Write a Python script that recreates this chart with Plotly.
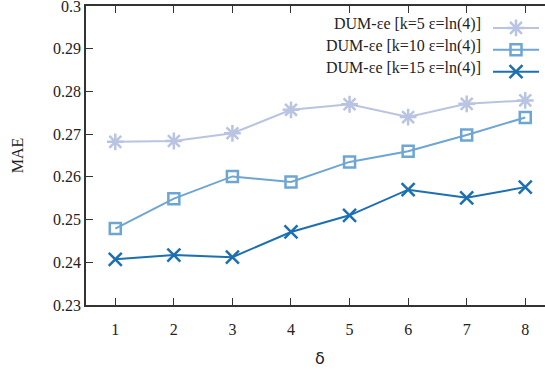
import plotly.graph_objects as go

delta = [1, 2, 3, 4, 5, 6, 7, 8]
mae_k5 = [0.2682, 0.2684, 0.2702, 0.2757, 0.2770, 0.2740, 0.2771, 0.2779]
mae_k10 = [0.2479, 0.2549, 0.2601, 0.2588, 0.2635, 0.2660, 0.2698, 0.2739]
mae_k15 = [0.2407, 0.2417, 0.2412, 0.2471, 0.2510, 0.2570, 0.2551, 0.2576]
labels = ["DUM-εe [k=5 ε=ln(4)]", "DUM-εe [k=10 ε=ln(4)]", "DUM-εe [k=15 ε=ln(4)]"]
y_ticks = [0.23, 0.24, 0.25, 0.26, 0.27, 0.28, 0.29, 0.3]
y_ticktext = ["0.23", "0.24", "0.25", "0.26", "0.27", "0.28", "0.29", "0.3"]
colors = ["#b9c4e2", "#6ea6d3", "#1c6fb0"]
symbols = ["asterisk-open", "square-open", "x-thin-open"]
sizes = [14, 11, 13]

serif = "Liberation Serif"
fs = 16
fig = go.Figure()
for ys, lab, c, s, sz in zip([mae_k5, mae_k10, mae_k15], labels, colors, symbols, sizes):
    fig.add_trace(go.Scatter(
        x=delta, y=ys, mode="lines+markers", name=" ",
        line=dict(color=c, width=2),
        marker=dict(symbol=s, size=sz, color=c, line=dict(color=c, width=2.5)),
    ))

fig.update_layout(
    width=545, height=371,
    margin=dict(l=86, r=0, t=6, b=66, autoexpand=False),
    paper_bgcolor="white", plot_bgcolor="white",
    font=dict(family=serif, size=fs, color="#222"),
    showlegend=True,
    legend=dict(x=(488 - 86) / 459, xref="paper", y=1 - 6 / 299, yanchor="top",
                bgcolor="rgba(0,0,0,0)", font=dict(size=14.5), itemwidth=46,
                tracegroupgap=0),
    xaxis=dict(range=[0.5, 8.337], tickvals=delta, ticks="inside", ticklen=7,
               tickcolor="#333", showline=True, linecolor="#333", linewidth=1.5,
               mirror="ticks", showgrid=False, zeroline=False,
               ticklabeloverflow="allow", ticklabelstandoff=9,
               tickfont=dict(family=serif, size=fs)),
    yaxis=dict(range=[0.23, 0.3], tickvals=y_ticks, ticktext=y_ticktext,
               ticks="inside", ticklen=7, ticklabeloverflow="allow",
               tickcolor="#333", showline=True, linecolor="#333", linewidth=1.5,
               showgrid=False, zeroline=False,
               title=dict(text="MAE", font=dict(family=serif, size=fs), standoff=25),
               tickfont=dict(family=serif, size=fs)),
)

for i, lab in enumerate(labels):
    fig.add_annotation(text=lab, xref="paper", yref="paper",
                       x=(483 - 86) / 459, y=1 - (24 + 22 * i - 6) / 299,
                       xanchor="right", yanchor="middle", showarrow=False,
                       font=dict(family=serif, size=fs, color="#222"))
fig.add_annotation(text="δ", xref="x", yref="paper", x=4.5, y=-53 / 299,
                   xanchor="center", yanchor="middle", showarrow=False,
                   font=dict(family="DejaVu Sans", size=16, color="#222"))

fig.write_html("out.html", config={"displayModeBar": False})
with open("out.html", encoding="utf-8") as f:
    html = f.read()
html = html.replace("<body>", '<body style="margin:0;overflow:hidden">', 1)
with open("out.html", "w", encoding="utf-8") as f:
    f.write(html)
